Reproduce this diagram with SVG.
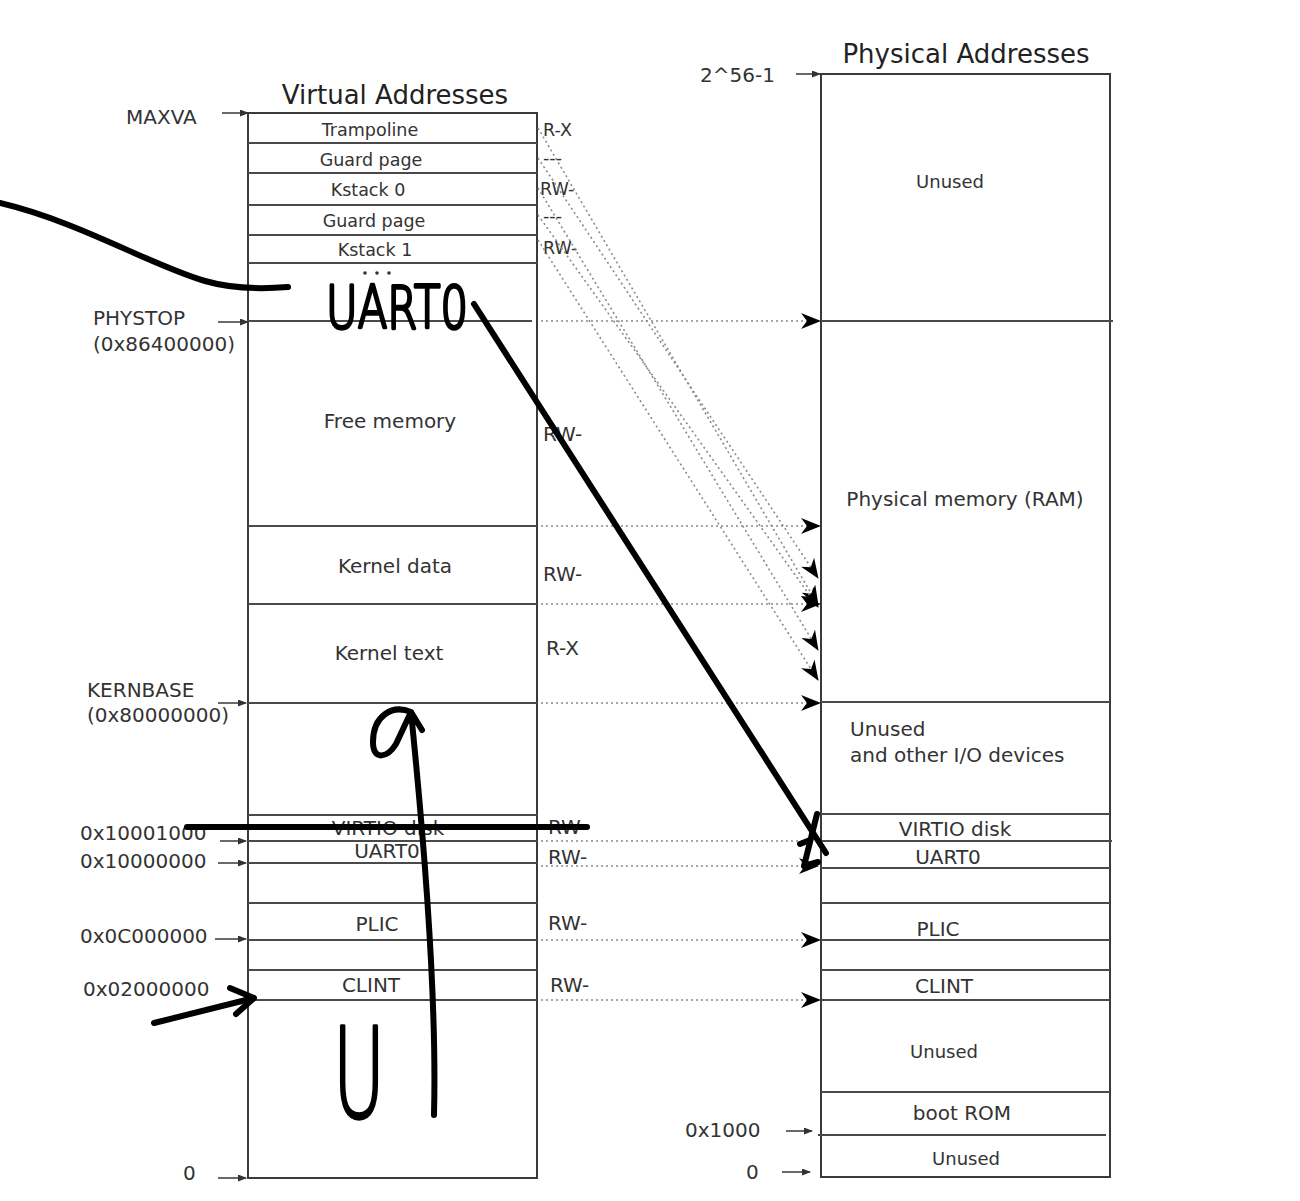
<svg xmlns="http://www.w3.org/2000/svg" width="1300" height="1201" viewBox="0 0 1300 1201">
<defs>
<style>
.box{fill:none;stroke:#3a3a3a;stroke-width:2}
.div{stroke:#4a4a4a;stroke-width:2;fill:none}
.dot{stroke:#8a8a8a;stroke-width:1.6;stroke-dasharray:2,3;fill:none}
.lbl{font-family:"DejaVu Sans","Liberation Sans",sans-serif;fill:#333}
.t{font-size:26px;fill:#222}
.m{font-size:20px}
.s{font-size:17.5px}
.u{font-size:18px}
.c{text-anchor:middle}
.tick{stroke:#444;stroke-width:1.6;fill:none}
.hand{stroke:#000;stroke-width:6;fill:none;stroke-linecap:round;stroke-linejoin:round}
.htxt{font-family:"DejaVu Sans","Liberation Sans",sans-serif;font-weight:200;fill:#000;stroke:#000;stroke-width:3.5;stroke-linejoin:round}
</style>
<marker id="ah" markerUnits="userSpaceOnUse" markerWidth="20" markerHeight="16" refX="19" refY="8" orient="auto">
<path d="M0,0 L20,8 L0,16 L6,8 z" fill="#000"/>
</marker>
<marker id="sa" markerUnits="userSpaceOnUse" markerWidth="9" markerHeight="7" refX="8" refY="3.5" orient="auto">
<path d="M0,0 L9,3.5 L0,7 z" fill="#333"/>
</marker>
</defs>
<rect width="1300" height="1201" fill="#fff"/>

<g id="virtual">
<text class="lbl t c" x="395" y="104">Virtual Addresses</text>
<rect class="box" x="248" y="113" width="289" height="1065"/>
<path class="div" d="M248,143H537M248,173H537M248,205H537M248,235H537M248,263H537M248,321H532M248,526H537M248,604H537M248,703H537M248,815H537M248,841H537M248,863H537M248,903H537M248,940H537M248,970H537M248,1000H537"/>
<g id="v-tramp"><text class="lbl s c" x="370" y="136">Trampoline</text><text class="lbl s" x="543" y="136">R-X</text></g>
<g id="v-guard0"><text class="lbl s c" x="371" y="166">Guard page</text><text class="lbl s" x="543" y="164">---</text></g>
<g id="v-kstack0"><text class="lbl s c" x="368" y="196">Kstack 0</text><text class="lbl s" x="540" y="195">RW-</text></g>
<g id="v-guard1"><text class="lbl s c" x="374" y="227">Guard page</text><text class="lbl s" x="543" y="222">---</text></g>
<g id="v-kstack1"><text class="lbl s c" x="375" y="256">Kstack 1</text><text class="lbl s" x="543" y="254">RW-</text></g>
<g id="v-dots"><circle cx="365" cy="273" r="1.8" fill="#333"/><circle cx="377" cy="273" r="1.8" fill="#333"/><circle cx="389" cy="273" r="1.8" fill="#333"/></g>
<g id="v-free"><text class="lbl m c" x="390" y="428">Free memory</text><text class="lbl m" x="543" y="441">RW-</text></g>
<g id="v-kdata"><text class="lbl m c" x="395" y="573">Kernel data</text><text class="lbl m" x="543" y="581">RW-</text></g>
<g id="v-ktext"><text class="lbl m c" x="389" y="660">Kernel text</text><text class="lbl m" x="546" y="655">R-X</text></g>
<g id="v-virtio"><text class="lbl m c" x="388" y="835">VIRTIO disk</text><text class="lbl m" x="548" y="834">RW-</text></g>
<g id="v-uart"><text class="lbl m c" x="387" y="858">UART0</text><text class="lbl m" x="548" y="864">RW-</text></g>
<g id="v-plic"><text class="lbl m c" x="377" y="931">PLIC</text><text class="lbl m" x="548" y="930">RW-</text></g>
<g id="v-clint"><text class="lbl m c" x="371" y="992">CLINT</text><text class="lbl m" x="550" y="992">RW-</text></g>
<g id="v-addr">
<text class="lbl m" x="126" y="124">MAXVA</text>
<text class="lbl m" x="93" y="325">PHYSTOP</text>
<text class="lbl m" x="93" y="351">(0x86400000)</text>
<text class="lbl m" x="87" y="697">KERNBASE</text>
<text class="lbl m" x="87" y="722">(0x80000000)</text>
<text class="lbl m" x="80" y="840">0x10001000</text>
<text class="lbl m" x="80" y="868">0x10000000</text>
<text class="lbl m" x="80" y="943">0x0C000000</text>
<text class="lbl m" x="83" y="996">0x02000000</text>
<text class="lbl m" x="183" y="1180">0</text>
<path class="tick" marker-end="url(#sa)" d="M222,113H248"/>
<path class="tick" marker-end="url(#sa)" d="M218,322H248"/>
<path class="tick" marker-end="url(#sa)" d="M218,703H246"/>
<path class="tick" marker-end="url(#sa)" d="M220,841H246"/>
<path class="tick" marker-end="url(#sa)" d="M218,863H246"/>
<path class="tick" marker-end="url(#sa)" d="M215,939H246"/>
<path class="tick" marker-end="url(#sa)" d="M218,1178H246"/>
</g>
</g>

<g id="physical">
<text class="lbl t c" x="966" y="63">Physical Addresses</text>
<rect class="box" x="821" y="74" width="289" height="1103"/>
<path class="div" d="M821,321H1113M821,702H1110M821,814H1110M821,841H1112M821,868H1110M821,903H1110M821,940H1110M821,970H1110M821,1000H1110M821,1092H1110M818,1135H1106"/>
<g id="p-unused-top"><text class="lbl u c" x="950" y="188">Unused</text></g>
<g id="p-ram"><text class="lbl m c" x="965" y="506">Physical memory (RAM)</text></g>
<g id="p-io"><text class="lbl m" x="850" y="736">Unused</text><text class="lbl m" x="850" y="762">and other I/O devices</text></g>
<g id="p-virtio"><text class="lbl m c" x="955" y="836">VIRTIO disk</text></g>
<g id="p-uart"><text class="lbl m c" x="948" y="864">UART0</text></g>
<g id="p-plic"><text class="lbl m c" x="938" y="936">PLIC</text></g>
<g id="p-clint"><text class="lbl m c" x="944" y="993">CLINT</text></g>
<g id="p-unused-mid"><text class="lbl u c" x="944" y="1058">Unused</text></g>
<g id="p-rom"><text class="lbl m c" x="962" y="1120">boot ROM</text></g>
<g id="p-unused-bot"><text class="lbl u c" x="966" y="1165">Unused</text></g>
<g id="p-addr">
<text class="lbl m" x="700" y="82">2^56-1</text>
<text class="lbl m" x="685" y="1137">0x1000</text>
<text class="lbl m" x="746" y="1179">0</text>
<path class="tick" marker-end="url(#sa)" d="M796,74H820"/>
<path class="tick" marker-end="url(#sa)" d="M786,1131H812"/>
<path class="tick" marker-end="url(#sa)" d="M782,1172H810"/>
</g>
</g>

<g id="connectors">
<path class="dot" marker-end="url(#ah)" d="M541,321H820"/>
<path class="dot" marker-end="url(#ah)" d="M541,526H820"/>
<path class="dot" marker-end="url(#ah)" d="M541,604H820"/>
<path class="dot" marker-end="url(#ah)" d="M541,703H820"/>
<path class="dot" d="M541,841H805"/>
<path class="dot" marker-end="url(#ah)" d="M541,866H818"/>
<path class="dot" marker-end="url(#ah)" d="M541,940H820"/>
<path class="dot" marker-end="url(#ah)" d="M541,1000H820"/>
<path class="dot" marker-end="url(#ah)" d="M538,128L818,605"/>
<path class="dot" marker-end="url(#ah)" d="M538,158L818,578"/>
<path class="dot" marker-end="url(#ah)" d="M538,188L818,650"/>
<path class="dot" marker-end="url(#ah)" d="M538,215L818,607"/>
<path class="dot" marker-end="url(#ah)" d="M538,240L818,680"/>
</g>

<g id="annotations">
<path class="hand" d="M0,203 C80,222 150,265 205,281 Q240,291 288,287"/>
<text class="htxt" x="326" y="328" font-size="58" textLength="142" lengthAdjust="spacingAndGlyphs">UART0</text>
<path class="hand" d="M474,304 L826,853"/>
<path class="hand" d="M817,814 L810,842 L804,866 L818,862 M800,844 L810,840"/>
<path class="hand" d="M187,827 L587,827"/>
<path class="hand" d="M434,1115 C437,1000 425,850 411,712 L422,730 M411,712 C392,704 373,716 373,742 C373,762 388,757 396,744 L411,712"/>
<path class="hand" d="M154,1023 L254,998 M230,988 L254,998 L236,1014"/>
<text class="htxt" x="333" y="1117" font-size="125" textLength="52" lengthAdjust="spacingAndGlyphs">U</text>
</g>
</svg>
